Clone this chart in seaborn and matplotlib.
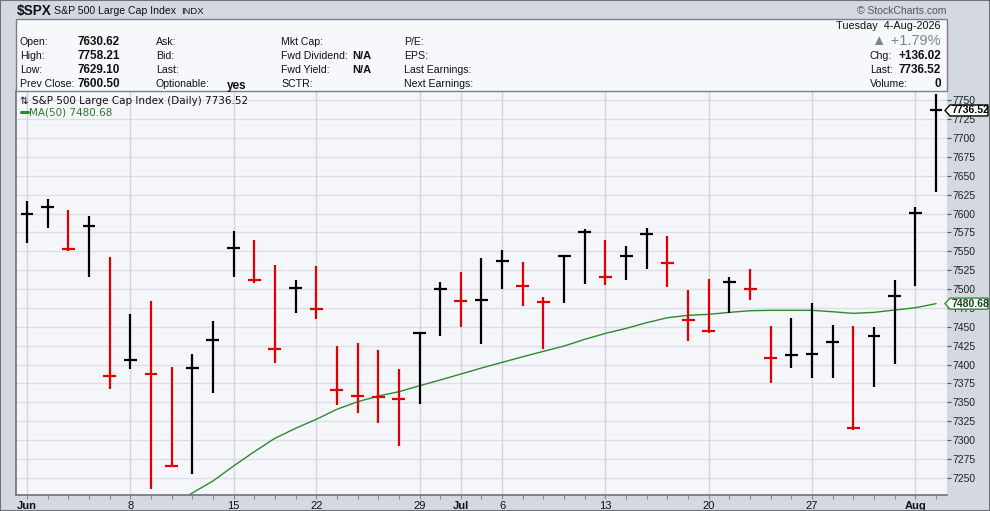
import numpy as np
import pandas as pd
import matplotlib
matplotlib.use('Agg')
import matplotlib.pyplot as plt
from matplotlib.patches import Rectangle, Polygon
import seaborn as sns

# daily bars, Jun 1 - Aug 4 2026 (trading days only)
dates = ['2026-06-01', '2026-06-02', '2026-06-03', '2026-06-04', '2026-06-05',
         '2026-06-08', '2026-06-09', '2026-06-10', '2026-06-11', '2026-06-12',
         '2026-06-15', '2026-06-16', '2026-06-17', '2026-06-18',
         '2026-06-22', '2026-06-23', '2026-06-24', '2026-06-25', '2026-06-26',
         '2026-06-29', '2026-06-30', '2026-07-01', '2026-07-02',
         '2026-07-06', '2026-07-07', '2026-07-08', '2026-07-09', '2026-07-10',
         '2026-07-13', '2026-07-14', '2026-07-15', '2026-07-16', '2026-07-17',
         '2026-07-20', '2026-07-21', '2026-07-22', '2026-07-23', '2026-07-24',
         '2026-07-27', '2026-07-28', '2026-07-29', '2026-07-30', '2026-07-31',
         '2026-08-03', '2026-08-04']

highs = [7616.6, 7619.2, 7604.6, 7596.7, 7542.8,
         7466.9, 7484.1, 7396.7, 7413.9, 7457.6,
         7576.8, 7564.9, 7531.8, 7511.9,
         7530.5, 7424.5, 7428.5, 7419.2, 7394.0,
         7443.0, 7509.3, 7522.9, 7541.1,
         7551.7, 7535.8, 7489.0, 7545.0, 7579.1,
         7564.9, 7557.0, 7580.4, 7570.2, 7498.7,
         7513.2, 7515.5, 7526.5, 7451.0, 7461.6,
         7481.0, 7452.3, 7451.0, 7449.7, 7511.9,
         7608.2, 7758.21]

lows = [7561.3, 7581.2, 7550.7, 7516.3, 7368.0,
        7394.4, 7235.5, 7263.8, 7255.0, 7362.6,
        7516.3, 7508.4, 7402.4, 7468.6,
        7459.9, 7346.8, 7336.2, 7322.9, 7292.5,
        7348.0, 7438.2, 7450.1, 7427.2,
        7500.0, 7477.5, 7420.1, 7481.5, 7506.6,
        7505.3, 7511.9, 7526.5, 7502.6, 7431.5,
        7441.3, 7467.8, 7485.8, 7375.9, 7395.8,
        7382.5, 7382.5, 7313.2, 7370.6, 7400.3,
        7504.4, 7629.10]

closes = [7599.7, 7609.0, 7553.0, 7583.8, 7385.2,
          7406.4, 7387.8, 7266.0, 7395.8, 7432.9,
          7554.7, 7512.3, 7420.5, 7501.7,
          7473.9, 7366.0, 7358.5, 7357.5, 7354.7,
          7442.1, 7500.4, 7484.3, 7485.2,
          7537.5, 7504.4, 7482.8, 7544.1, 7575.9,
          7516.3, 7543.7, 7572.5, 7534.8, 7458.9,
          7444.4, 7509.7, 7500.4, 7409.0, 7413.0,
          7414.3, 7430.2, 7315.9, 7438.2, 7491.1,
          7600.50, 7736.52]
prior_close = 7590.0

ma50 = [np.nan] * 7 + [7212.0, 7229.8, 7245.7,
        7265.6, 7284.5, 7302.3, 7315.5,
        7327.4, 7340.7, 7350.7, 7358.3, 7364.0,
        7371.9, 7379.5, 7387.4, 7395.4,
        7402.9, 7410.3, 7417.5, 7424.5, 7433.4,
        7441.3, 7447.9, 7455.5, 7462.0, 7465.2,
        7466.5, 7469.1, 7471.3, 7471.8, 7471.8,
        7471.8, 7469.9, 7467.8, 7469.1, 7472.2,
        7475.2, 7480.68]

tick_dates = ['2026-06-01', '2026-06-08', '2026-06-15', '2026-06-22', '2026-06-29',
              '2026-07-01', '2026-07-06', '2026-07-13', '2026-07-20', '2026-07-27',
              '2026-08-03']
tick_labels = ['Jun', '8', '15', '22', '29', 'Jul', '6', '13', '20', '27', 'Aug']
month_labels = ['Jun', 'Jul', 'Aug']

df = pd.DataFrame({'date': pd.to_datetime(dates), 'high': highs, 'low': lows,
                   'close': closes, 'ma': ma50})
df['idx'] = np.arange(len(df))
prev = [prior_close] + closes[:-1]
df['color'] = np.where(df['close'] >= prev, '#000000', '#e00000')

sns.set_theme(style='white')
plt.rcParams['font.family'] = ['Liberation Sans', 'DejaVu Sans']

W, H = 990, 511
fig = plt.figure(figsize=(W / 100, H / 100), dpi=100, facecolor='#d3d8e1')

def fx(px):
    return px / W

def fy(py):
    return 1 - py / H

# plot area in pixels
left, right, top, bottom = 16, 947, 91, 495
ax = fig.add_axes([fx(left), fy(bottom), fx(right - left), (bottom - top) / H])
ax.set_facecolor('#f4f6fa')

ymin, ymax = 7227.2, 7762.3
ax.set_xlim(-0.53, 44.53)
ax.set_ylim(ymin, ymax)

for yv in range(7250, 7751, 25):
    ax.axhline(yv, color='#dcdfe6', lw=1, zorder=0)
tick_pos = [dates.index(d) for d in tick_dates]
for xp in tick_pos:
    ax.axvline(xp, color='#d2d5dc', lw=1, zorder=0)

# HLC bars
ax.vlines(df['idx'], df['low'], df['high'], colors=df['color'], lw=1.6, zorder=3)
ax.hlines(df['close'], df['idx'] - 0.31, df['idx'] + 0.31, colors=df['color'], lw=1.6, zorder=3)

sns.lineplot(data=df, x='idx', y='ma', color='#2d8a2d', lw=1.0, ax=ax, zorder=2)
ax.set_xlabel('')
ax.set_ylabel('')

ax.set_xticks(tick_pos)
ax.set_xticklabels(tick_labels)
for lbl in ax.get_xticklabels():
    if lbl.get_text() in month_labels:
        lbl.set_fontweight('bold')
ax.set_xticks(df['idx'], minor=True)
ax.tick_params(axis='x', which='both', direction='out', length=3, width=0.8,
               color='#888888', labelsize=8, pad=1, bottom=True, labelcolor='#111111')

ax.yaxis.tick_right()
ax.set_yticks(range(7250, 7751, 25))
ax.tick_params(axis='y', which='both', direction='out', length=3, width=0.8,
               color='#555555', labelsize=7.5, pad=1, right=True, labelcolor='#222222')

for side in ['top', 'right']:
    ax.spines[side].set_visible(False)
ax.spines['left'].set_color('#6e7380')
ax.spines['bottom'].set_color('#6e7380')
ax.spines['left'].set_linewidth(1.2)
ax.spines['bottom'].set_linewidth(1.2)

# in-chart legend
ax.text(0.004, 0.987, '\u21c5 S&P 500 Large Cap Index (Daily) 7736.52', transform=ax.transAxes,
        fontsize=7.5, family=['DejaVu Sans'], va='top', ha='left', color='#111111')
ax.plot([0.005, 0.013], [0.947, 0.947], transform=ax.transAxes, color='#2d8a2d', lw=2.2)
ax.text(0.014, 0.947, 'MA(50) 7480.68', transform=ax.transAxes, fontsize=7.5,
        family=['DejaVu Sans'], va='center', ha='left', color='#2d7a2d')

# value flags on the right axis
def flag(val, text, edge, txtcolor):
    rel = (val - ymin) / (ymax - ymin)
    yc = fy(bottom) + rel * (bottom - top) / H
    hh = 5.5 / H
    pts = [(fx(945), yc), (fx(950), yc + hh), (fx(988), yc + hh), (fx(988), yc - hh), (fx(950), yc - hh)]
    fig.add_artist(Polygon(pts, closed=True, transform=fig.transFigure, facecolor='white',
                           edgecolor=edge, lw=1, zorder=5))
    fig.text(fx(951), yc, text, fontsize=7.5, fontweight='bold', color=txtcolor,
             va='center', ha='left', zorder=6)

flag(7736.52, '7736.52', '#000000', '#000000')
flag(7480.68, '7480.68', '#2d8a2d', '#1d3d1d')

# header strip
fig.text(fx(17), fy(11), '$SPX', fontsize=9.8, fontweight='bold', va='center', ha='left', color='#111111')
fig.text(fx(54), fy(11), 'S&P 500 Large Cap Index', fontsize=7.6, va='center', ha='left', color='#111111')
fig.text(fx(181), fy(11.5), 'INDX', fontsize=6.8, va='center', ha='left', color='#111111')
fig.text(fx(946), fy(11), '\u00a9 StockCharts.com', fontsize=7.5, va='center', ha='right', color='#555555')

# info panel
fig.add_artist(Rectangle((fx(16), fy(91)), fx(947 - 16), (91 - 19) / H, transform=fig.transFigure,
                         facecolor='#f6f8fb', edgecolor='#7a7f8a', lw=1, zorder=1))

rows_y = [42, 56, 70, 84]
col1 = ['Open:', 'High:', 'Low:', 'Prev Close:']
col1_vals = ['7630.62', '7758.21', '7629.10', '7600.50']
col2 = ['Ask:', 'Bid:', 'Last:', 'Optionable:']
col3 = ['Mkt Cap:', 'Fwd Dividend:', 'Fwd Yield:', 'SCTR:']
col4 = ['P/E:', 'EPS:', 'Last Earnings:', 'Next Earnings:']
for i, yy in enumerate(rows_y):
    fig.text(fx(20), fy(yy), col1[i], fontsize=7.6, va='center', ha='left', color='#111111', zorder=2)
    fig.text(fx(78), fy(yy), col1_vals[i], fontsize=8.5, fontweight='bold', va='center', ha='left',
             color='#111111', zorder=2)
    fig.text(fx(156), fy(yy), col2[i], fontsize=7.6, va='center', ha='left', color='#111111', zorder=2)
    fig.text(fx(281), fy(yy), col3[i], fontsize=7.6, va='center', ha='left', color='#111111', zorder=2)
    fig.text(fx(404), fy(yy), col4[i], fontsize=7.6, va='center', ha='left', color='#111111', zorder=2)
fig.text(fx(227), fy(85.5), 'yes', fontsize=8.5, fontweight='bold', va='center', ha='left', color='#111111', zorder=2)
fig.text(fx(352), fy(56), 'N/A', fontsize=8, fontweight='bold', va='center', ha='left', color='#111111', zorder=2)
fig.text(fx(352), fy(70), 'N/A', fontsize=8, fontweight='bold', va='center', ha='left', color='#111111', zorder=2)

fig.text(fx(941), fy(26), 'Tuesday  4-Aug-2026', fontsize=7.8, va='center', ha='right', color='#111111', zorder=2)
fig.text(fx(941), fy(41), '\u25b2 +1.79%', fontsize=10.5, va='center', ha='right', color='#7b8494',
         family=['Liberation Sans', 'DejaVu Sans'], zorder=2)
right_labels = ['Chg:', 'Last:', 'Volume:']
right_vals = ['+136.02', '7736.52', '0']
for i, yy in enumerate([56, 70, 84]):
    fig.text(fx(870), fy(yy), right_labels[i], fontsize=7.6, va='center', ha='left', color='#111111', zorder=2)
    fig.text(fx(941), fy(yy), right_vals[i], fontsize=8.5, fontweight='bold', va='center', ha='right',
             color='#111111', zorder=2)

# outer frame
fig.add_artist(Rectangle((0, 0), 1, 1, transform=fig.transFigure, fill=False,
                         edgecolor='#6e7380', lw=1.5, zorder=10))

fig.savefig('out.png', dpi=100, facecolor=fig.get_facecolor())
